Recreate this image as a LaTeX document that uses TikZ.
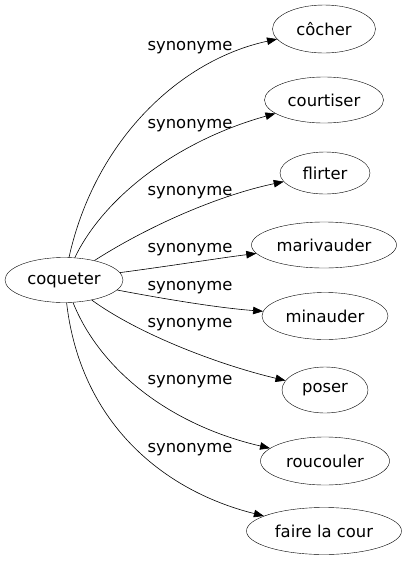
\documentclass[tikz,border=0pt]{standalone}
\usepackage{fontspec}
\setmainfont{DejaVu Sans}
\usetikzlibrary{shapes.geometric,arrows.meta}
\begin{document}
\begin{tikzpicture}[x=1pt,y=-1pt,
  mot/.style={ellipse,draw=black,inner sep=0pt,minimum height=46pt,
    font=\fontsize{16.4}{19}\selectfont},
  syn/.style={inner sep=0pt,font=\fontsize{16.4}{19}\selectfont},
  lien/.style={-{Triangle[length=10pt,width=7.5pt]},line width=0.6pt}]
\useasboundingbox (0,0) rectangle (407,563);
\node[mot,minimum width=118pt,minimum height=45pt] (coqueter) at (64,280) {coqueter};
\node[mot,minimum width=103pt,minimum height=48pt] (cocher) at (324,29) {côcher};
\node[mot,minimum width=119pt] (courtiser) at (324,100) {courtiser};
\node[mot,minimum width=90pt,minimum height=42pt] (flirter) at (325,173) {flirter};
\node[mot,minimum width=145pt] (marivauder) at (324,245) {marivauder};
\node[mot,minimum width=126pt,minimum height=47pt] (minauder) at (325,316) {minauder};
\node[mot,minimum width=86pt] (poser) at (325,390) {poser};
\node[mot,minimum width=129pt,minimum height=48pt] (roucouler) at (325,461) {roucouler};
\node[mot,minimum width=155pt,minimum height=47pt] (cour) at (324,531) {faire la cour};
\draw[lien] (coqueter) .. controls (95,140) and (180,60) .. (cocher);
\draw[lien] (coqueter) .. controls (105,195) and (180,140) .. (courtiser);
\draw[lien] (coqueter) .. controls (150,225) and (220,195) .. (flirter);
\draw[lien] (coqueter) .. controls (170,266) and (220,258) .. (marivauder);
\draw[lien] (coqueter) .. controls (170,300) and (220,308) .. (minauder);
\draw[lien] (coqueter) .. controls (140,335) and (220,365) .. (poser);
\draw[lien] (coqueter) .. controls (100,370) and (170,425) .. (roucouler);
\draw[lien] (coqueter) .. controls (80,420) and (160,490) .. (cour);
\node[syn] (s1) at (190,48) {synonyme};
\node[syn] (s2) at (190,126) {synonyme};
\node[syn] (s3) at (190,193) {synonyme};
\node[syn] (s4) at (190,250) {synonyme};
\node[syn] (s5) at (190,288) {synonyme};
\node[syn] (s6) at (190,325) {synonyme};
\node[syn] (s7) at (190,382) {synonyme};
\node[syn] (s8) at (190,450) {synonyme};
\end{tikzpicture}
\end{document}
